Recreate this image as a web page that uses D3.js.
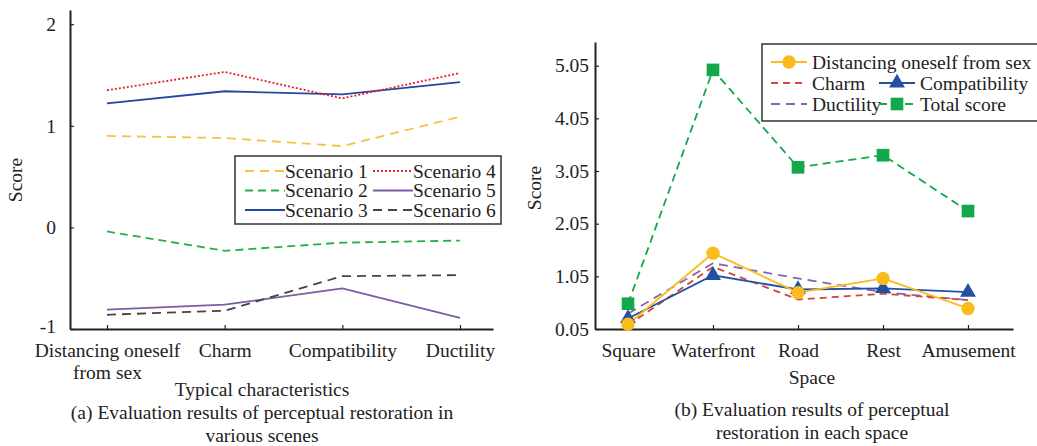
<!DOCTYPE html>
<html>
<head>
<meta charset="utf-8">
<script src="https://cdn.jsdelivr.net/npm/d3@7"></script>
<style>
  body { margin: 0; background: #fff; }
</style>
</head>
<body>
<script>
// (a) perceptual restoration by scene
var traits = ["Distancing oneself from sex", "Charm", "Compatibility", "Ductility"];
var scenarioNames = ["Scenario 1", "Scenario 2", "Scenario 3", "Scenario 4", "Scenario 5", "Scenario 6"];
var scenario1 = [0.90, 0.88, 0.80, 1.09];
var scenario2 = [-0.04, -0.23, -0.15, -0.13];
var scenario3 = [1.22, 1.34, 1.31, 1.43];
var scenario4 = [1.35, 1.53, 1.27, 1.52];
var scenario5 = [-0.81, -0.76, -0.60, -0.89];
var scenario6 = [-0.86, -0.82, -0.48, -0.47];
var leftTicks = [-1, 0, 1, 2];

// (b) perceptual restoration by space
var spaces = ["Square", "Waterfront", "Road", "Rest", "Amusement"];
var measureNames = ["Distancing oneself from sex", "Charm", "Compatibility", "Ductility", "Total score"];
var distancing = [0.14, 1.49, 0.74, 1.01, 0.44];
var charm = [0.12, 1.23, 0.61, 0.72, 0.60];
var compatibility = [0.25, 1.07, 0.80, 0.82, 0.75];
var ductility = [0.34, 1.30, 1.01, 0.75, 0.60];
var totalScore = [0.53, 4.97, 3.12, 3.35, 2.29];
var rightTicks = [0.05, 1.05, 2.05, 3.05, 4.05, 5.05];

var W = 1037, H = 446;
var FONT = "'Liberation Serif', 'Times New Roman', Times, serif";
var FS = 19.5;
var LW = 1.8;

var svg = d3.select("body").append("svg").attr("width", W).attr("height", H)
    .style("font-family", FONT);
svg.append("rect").attr("width", W).attr("height", H).attr("fill", "#fff");

function txt(x, y, s) {
    return svg.append("text").attr("x", x).attr("y", y).attr("text-anchor", "middle")
        .style("font-family", FONT).style("font-size", FS + "px").attr("fill", "#222").text(s);
}

function styleAxis(g) {
    g.attr("font-family", null).attr("font-size", null);
    g.select(".domain").attr("stroke", "#222").attr("stroke-width", 2);
    g.selectAll(".tick line").attr("stroke", "#222").attr("stroke-width", 1.2);
    g.selectAll(".tick text").style("font-family", FONT).style("font-size", FS + "px").attr("fill", "#222");
}

function wrap(sel, width) {
    sel.each(function() {
        var t = d3.select(this), words = t.text().split(" "), line = [], lines = [];
        t.text(null);
        var tmp = t.append("tspan");
        words.forEach(function(w) {
            line.push(w);
            tmp.text(line.join(" "));
            if (tmp.node().getComputedTextLength() > width && line.length > 1) {
                line.pop(); lines.push(line.join(" ")); line = [w];
            }
        });
        lines.push(line.join(" "));
        tmp.remove();
        var y = t.attr("y"), dy = parseFloat(t.attr("dy"));
        lines.forEach(function(l, i) {
            t.append("tspan").attr("x", 0).attr("y", y).attr("dy", (dy + i * 1.12) + "em").text(l);
        });
    });
}

// ---------- left panel ----------
var L = {x0: 70, x1: 493, y0: 10, y1: 329};
var xa = d3.scalePoint().domain(traits).range([107, 460]);
var ya = d3.scaleLinear().domain([-1, 2.14]).range([L.y1, L.y0]);

svg.append("g").attr("transform", "translate(0," + L.y1 + ")")
    .call(d3.axisBottom(d3.scaleLinear().range([L.x0, L.x1])).tickValues([]).tickSizeOuter(0))
    .call(styleAxis);
var gxa = svg.append("g").attr("transform", "translate(0," + L.y1 + ")")
    .call(d3.axisBottom(xa).tickSizeInner(-4).tickSizeOuter(0).tickPadding(14));
gxa.select(".domain").remove();
styleAxis(gxa);
gxa.selectAll(".tick text").call(wrap, 165);

var gya = svg.append("g").attr("transform", "translate(" + L.x0 + ",0)")
    .call(d3.axisLeft(ya).tickValues(leftTicks).tickFormat(function(d) { return String(d); })
        .tickSizeInner(-4).tickSizeOuter(0).tickPadding(14));
styleAxis(gya);
gya.selectAll(".tick text").filter(function(d) { return d === -1; }).attr("dy", "0.2em");

var scen = [
    {v: scenario1, c: "#f7c242", d: "9,6"},
    {v: scenario2, c: "#22b04b", d: "8,5"},
    {v: scenario3, c: "#2348a0", d: null},
    {v: scenario4, c: "#e5212b", d: "2,2"},
    {v: scenario5, c: "#7d5ba6", d: null},
    {v: scenario6, c: "#444", d: "9,6"}
];
var lineA = d3.line().x(function(d, i) { return xa(traits[i]); }).y(function(d) { return ya(d); });
scen.forEach(function(s) {
    svg.append("path").attr("d", lineA(s.v)).attr("fill", "none")
        .attr("stroke", s.c).attr("stroke-width", LW).attr("stroke-dasharray", s.d);
});

txt(0, 0, "Score").attr("transform", "translate(22,180) rotate(-90)");
txt(262, 396, "Typical characteristics");
txt(262, 419, "(a) Evaluation results of perceptual restoration in");
txt(262, 442, "various scenes");

// left legend
var legA = svg.append("g");
legA.append("rect").attr("x", 235).attr("y", 156).attr("width", 266).attr("height", 68)
    .attr("fill", "#fff").attr("stroke", "#333").attr("stroke-width", 1.5);
scenarioNames.forEach(function(n, i) {
    var cx = i < 3 ? 245 : 373, cy = 171 + (i % 3) * 19.5;
    var s = scen[i];
    legA.append("line").attr("x1", cx).attr("x2", cx + 40).attr("y1", cy).attr("y2", cy)
        .attr("stroke", s.c).attr("stroke-width", LW).attr("stroke-dasharray", s.d);
    legA.append("text").attr("x", cx + 40).attr("y", cy).attr("dy", "0.35em")
        .style("font-family", FONT).style("font-size", FS + "px").attr("fill", "#222").text(n);
});

// ---------- right panel ----------
var R = {x0: 595, x1: 1013, y0: 42, y1: 329};
var xb = d3.scalePoint().domain(spaces).range([628, 968]);
var yb = d3.scaleLinear().domain([0.05, 5.5]).range([R.y1, R.y0]);

svg.append("g").attr("transform", "translate(0," + R.y1 + ")")
    .call(d3.axisBottom(d3.scaleLinear().range([R.x0, R.x1])).tickValues([]).tickSizeOuter(0))
    .call(styleAxis);
var gxb = svg.append("g").attr("transform", "translate(0," + R.y1 + ")")
    .call(d3.axisBottom(xb).tickSizeInner(-4).tickSizeOuter(0).tickPadding(14));
gxb.select(".domain").remove();
styleAxis(gxb);

var gyb = svg.append("g").attr("transform", "translate(" + R.x0 + ",0)")
    .call(d3.axisLeft(yb).tickValues(rightTicks).tickFormat(d3.format(".2f"))
        .tickSizeInner(-4).tickSizeOuter(0).tickPadding(6));
styleAxis(gyb);

var meas = [
    {v: distancing, c: "#fbbb1c", d: null, m: "circle"},
    {v: charm, c: "#d2463f", d: "7,5", m: null},
    {v: compatibility, c: "#2450a3", d: null, m: "triangle"},
    {v: ductility, c: "#8466b0", d: "9,6", m: null},
    {v: totalScore, c: "#13a84b", d: "8,5", m: "square"}
];
var lineB = d3.line().x(function(d, i) { return xb(spaces[i]); }).y(function(d) { return yb(d); });
var symbolFor = {
    circle: d3.symbol().type(d3.symbolCircle).size(140),
    triangle: d3.symbol().type(d3.symbolTriangle).size(110),
    square: d3.symbol().type(d3.symbolSquare).size(160)
};
var drawOrder = [4, 3, 1, 2, 0];
drawOrder.forEach(function(k) {
    var s = meas[k];
    svg.append("path").attr("d", lineB(s.v)).attr("fill", "none")
        .attr("stroke", s.c).attr("stroke-width", LW).attr("stroke-dasharray", s.d);
});
drawOrder.forEach(function(k) {
    var s = meas[k];
    if (!s.m) return;
    svg.selectAll(null).data(s.v).enter().append("path")
        .attr("d", symbolFor[s.m])
        .attr("transform", function(d, i) { return "translate(" + xb(spaces[i]) + "," + yb(d) + ")"; })
        .attr("fill", s.c);
});

txt(0, 0, "Score").attr("transform", "translate(541,188) rotate(-90)");
txt(812, 384, "Space");
txt(812, 416, "(b) Evaluation results of perceptual");
txt(812, 439, "restoration in each space");

// right legend
var legB = svg.append("g");
legB.append("rect").attr("x", 762).attr("y", 44).attr("width", 280).attr("height", 77)
    .attr("fill", "#fff").attr("stroke", "#333").attr("stroke-width", 1.5);
var legPos = [[771, 62], [771, 83], [879, 83], [771, 104], [879, 104]];
measureNames.forEach(function(n, i) {
    var s = meas[i], p = legPos[i];
    legB.append("line").attr("x1", p[0]).attr("x2", p[0] + 36).attr("y1", p[1]).attr("y2", p[1])
        .attr("stroke", s.c).attr("stroke-width", LW).attr("stroke-dasharray", s.d);
    if (s.m) legB.append("path").attr("d", symbolFor[s.m])
        .attr("transform", "translate(" + (p[0] + 18) + "," + p[1] + ")").attr("fill", s.c);
    legB.append("text").attr("x", p[0] + 41).attr("y", p[1]).attr("dy", "0.35em")
        .style("font-family", FONT).style("font-size", FS + "px").attr("fill", "#222").text(n);
});
</script>
</body>
</html>
